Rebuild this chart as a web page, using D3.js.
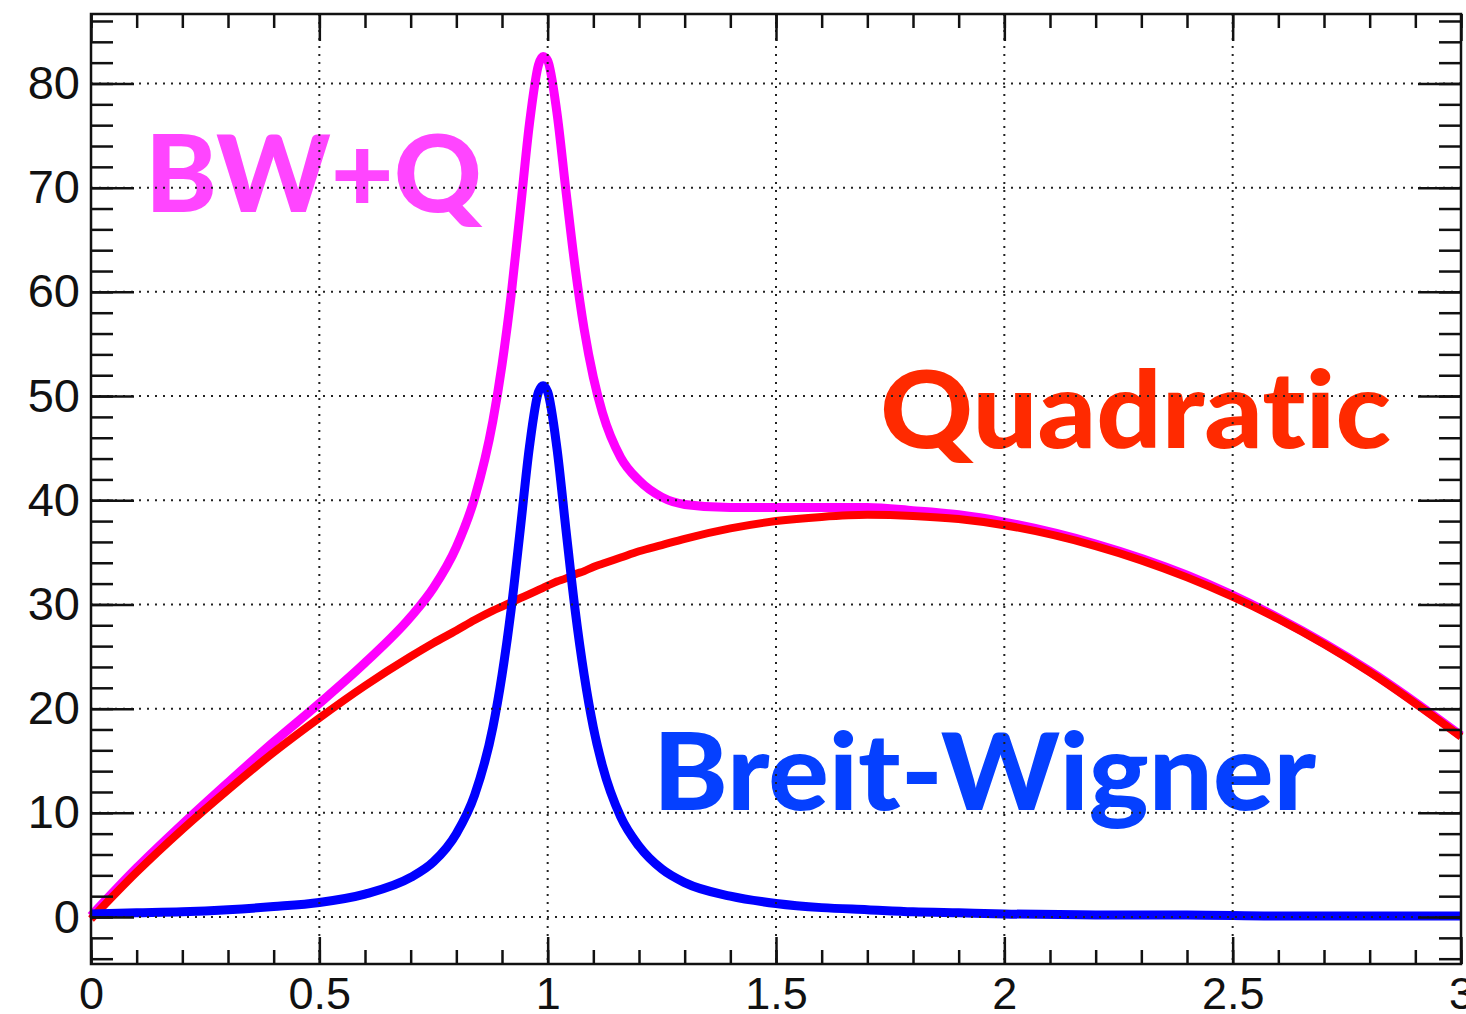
<!DOCTYPE html>
<html>
<head>
<meta charset="utf-8">
<script src="https://cdn.jsdelivr.net/npm/d3@7"></script>
<style>
    body { margin: 0; background: #fff; }
    .axis text { font-family: "Liberation Sans", Arial, sans-serif; font-size: 45px; fill: #111; }
    .axis path { display: none; }
    .axis line { stroke: #111; stroke-width: 2.5; }
    .grid line { stroke: #222; stroke-width: 2; stroke-dasharray: 2,6; }
    .curve { fill: none; stroke-linejoin: round; }
    .label { font-family: "Lato", "Open Sans", sans-serif; font-weight: 900; font-size: 106px;
             font-variant-ligatures: none; font-feature-settings: "liga" 0, "clig" 0; }
</style>
</head>
<body>
<script>
// x positions the curves were read at
var xs = [0, 0.1, 0.2, 0.3, 0.4, 0.5, 0.6, 0.7, 0.75, 0.8,
          0.84, 0.88, 0.9, 0.92, 0.94, 0.96, 0.98, 0.99, 1.0, 1.02,
          1.04, 1.06, 1.08, 1.1, 1.12, 1.16, 1.2, 1.25, 1.3, 1.4,
          1.5, 1.6, 1.7, 1.8, 1.9, 2.0, 2.2, 2.4, 2.6, 2.8, 3.0];

var quadratic = [-0.2, 4.3, 8.4, 12.2, 15.8, 19.1, 22.2, 25.0, 26.3, 27.5,
                 28.5, 29.4, 29.8, 30.2, 30.6, 31.0, 31.4, 31.6, 31.8, 32.2,
                 32.5, 32.9, 33.2, 33.6, 33.9, 34.5, 35.1, 35.7, 36.3, 37.3,
                 38.0, 38.4, 38.6, 38.5, 38.2, 37.6, 35.6, 32.6, 28.6, 23.5, 17.3];

var breit_wigner = [0.3, 0.4, 0.5, 0.7, 1.0, 1.4, 2.2, 3.8, 5.3, 8.0,
                    11.7, 18.2, 23.2, 29.5, 37.2, 45.1, 50.4, 51.0, 50.4, 45.1,
                    37.2, 29.5, 23.2, 18.2, 14.5, 9.6, 6.8, 4.6, 3.3, 2.0,
                    1.3, 0.9, 0.7, 0.5, 0.4, 0.3, 0.2, 0.2, 0.1, 0.1, 0.1];

var bw_plus_q = [0.1, 4.7, 8.9, 12.9, 16.8, 20.5, 24.4, 28.8, 31.6, 35.5,
                 40.2, 47.6, 53.0, 59.7, 67.8, 76.1, 81.8, 82.6, 82.2, 77.3,
                 69.7, 62.4, 56.4, 51.8, 48.4, 44.1, 41.9, 40.3, 39.6, 39.3,
                 39.3, 39.3, 39.3, 39.0, 38.6, 37.9, 35.8, 32.8, 28.7, 23.6, 17.4];

// axis ticks
var x_major = [0, 0.5, 1, 1.5, 2, 2.5, 3];
var x_labels = ["0", "0.5", "1", "1.5", "2", "2.5", "3"];
var y_major = [0, 10, 20, 30, 40, 50, 60, 70, 80];
var y_labels = ["0", "10", "20", "30", "40", "50", "60", "70", "80"];

var plot = {};

(function(self){
    var left = 91, right = 1461, top = 14, bottom = 964;

    self.scale_x = d3.scaleLinear().domain([0, 3]).range([left, right]);
    self.scale_y = d3.scaleLinear().domain([-4.51, 86.67]).range([bottom, top]);

    self.svg = d3.select("body")
            .append("svg")
            .attr("width", 1466)
            .attr("height", 1014);

    // the curves, magenta first so red and blue sit on top
    self.add_curve = function(values, color, width) {
        var line = d3.line()
                .x(function(d, i){ return self.scale_x(xs[i]); })
                .y(function(d){ return self.scale_y(d); })
                .curve(d3.curveMonotoneX);
        self.svg.append("path")
                .attr("class", "curve")
                .attr("d", line(values))
                .style("stroke", color)
                .style("stroke-width", width);
    };

    self.add_label = function(text, x, y, len, color) {
        self.svg.append("text")
                .attr("class", "label")
                .attr("x", x)
                .attr("y", y)
                .attr("textLength", len)
                .attr("lengthAdjust", "spacingAndGlyphs")
                .style("fill", color)
                .text(text);
    };

    self.add_grid = function() {
        var g = self.svg.append("g").attr("class", "grid");
        g.selectAll(".vx").data(x_major.slice(1, -1)).enter()
                .append("line")
                .attr("x1", function(d){ return self.scale_x(d); })
                .attr("x2", function(d){ return self.scale_x(d); })
                .attr("y1", top).attr("y2", bottom);
        g.selectAll(".hy").data(y_major).enter()
                .append("line")
                .attr("x1", left).attr("x2", right)
                .attr("y1", function(d){ return self.scale_y(d); })
                .attr("y2", function(d){ return self.scale_y(d); });
    };

    self.add_axes = function() {
        var x_minor = d3.range(0, 31).map(function(d){ return d / 10; });
        var y_minor = d3.range(-4, 87, 2);

        // bottom
        self.svg.append("g").attr("class", "axis")
                .attr("transform", "translate(0," + bottom + ")")
                .call(d3.axisBottom(self.scale_x).tickValues(x_minor)
                        .tickSize(-14).tickSizeOuter(0).tickFormat(""));
        self.svg.append("g").attr("class", "axis")
                .attr("transform", "translate(0," + bottom + ")")
                .call(d3.axisBottom(self.scale_x).tickValues(x_major)
                        .tickSize(-27).tickSizeOuter(0).tickPadding(13)
                        .tickFormat(function(d, i){ return x_labels[i]; }));
        // top
        self.svg.append("g").attr("class", "axis")
                .attr("transform", "translate(0," + top + ")")
                .call(d3.axisTop(self.scale_x).tickValues(x_minor)
                        .tickSize(-14).tickSizeOuter(0).tickFormat(""));
        self.svg.append("g").attr("class", "axis")
                .attr("transform", "translate(0," + top + ")")
                .call(d3.axisTop(self.scale_x).tickValues(x_major)
                        .tickSize(-27).tickSizeOuter(0).tickFormat(""));
        // left
        self.svg.append("g").attr("class", "axis")
                .attr("transform", "translate(" + left + ",0)")
                .call(d3.axisLeft(self.scale_y).tickValues(y_minor)
                        .tickSize(-22).tickSizeOuter(0).tickFormat(""));
        self.svg.append("g").attr("class", "axis y-labels")
                .attr("transform", "translate(" + left + ",0)")
                .call(d3.axisLeft(self.scale_y).tickValues(y_major)
                        .tickSize(-43).tickSizeOuter(0).tickPadding(11)
                        .tickFormat(function(d, i){ return y_labels[i]; }))
                .selectAll("text")
                .style("font-size", "47px");
        // right
        self.svg.append("g").attr("class", "axis")
                .attr("transform", "translate(" + right + ",0)")
                .call(d3.axisRight(self.scale_y).tickValues(y_minor)
                        .tickSize(-22).tickSizeOuter(0).tickFormat(""));
        self.svg.append("g").attr("class", "axis")
                .attr("transform", "translate(" + right + ",0)")
                .call(d3.axisRight(self.scale_y).tickValues(y_major)
                        .tickSize(-43).tickSizeOuter(0).tickFormat(""));

        // frame
        self.svg.append("rect")
                .attr("x", left).attr("y", top)
                .attr("width", right - left).attr("height", bottom - top)
                .style("fill", "none")
                .style("stroke", "#111")
                .style("stroke-width", 2.5);
    };
}(plot));

plot.add_label("BW+Q", 145, 212, 337, "#ff45ff");
plot.add_label("Quadratic", 880, 448, 511, "#ff2a00");
plot.add_label("Breit-Wigner", 653, 810, 663, "#0540ff");

plot.add_curve(bw_plus_q, "#ff00ff", 9);
plot.add_curve(quadratic, "#ff0000", 8);
plot.add_curve(breit_wigner, "#0000ff", 9);

plot.add_grid();
plot.add_axes();
</script>
</body>
</html>
